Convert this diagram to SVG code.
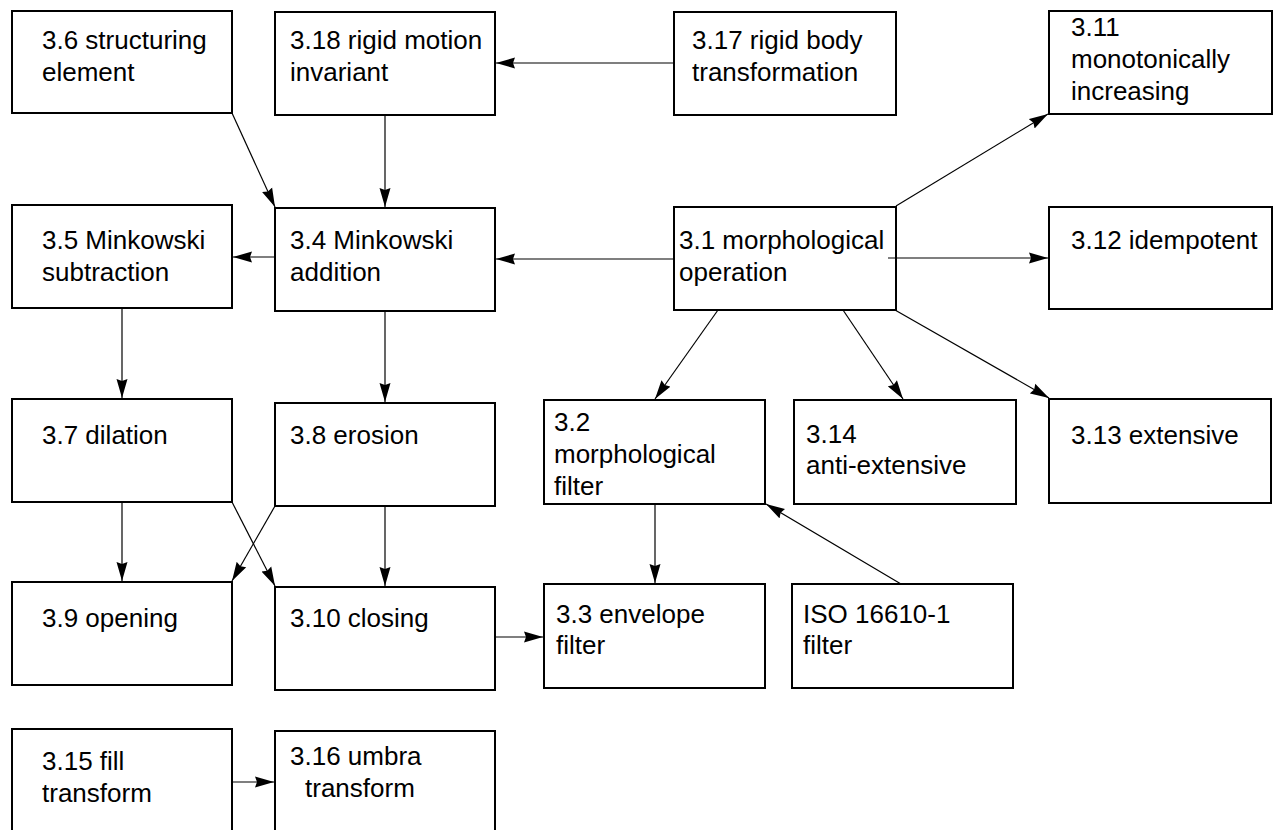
<svg xmlns="http://www.w3.org/2000/svg" width="1274" height="830" viewBox="0 0 1274 830">
<style>
.box{fill:#fff;stroke:#000;stroke-width:2}
text{font-family:"Liberation Sans",Arial,sans-serif;font-size:26px;fill:#000}
.c line{stroke:#000;stroke-width:1.2;marker-end:url(#ah)}
</style>
<defs>
<marker id="ah" markerUnits="userSpaceOnUse" viewBox="0 0 19 12" refX="19" refY="6" markerWidth="19" markerHeight="12" orient="auto">
<path d="M0,0.5 L19,6 L0,11.5 L2,6 z" fill="#000"/>
</marker>
</defs>
<rect width="1274" height="830" fill="#fff"/>
<g id="n3_6"><rect class="box" x="12" y="11" width="220" height="102"/><text x="42" y="49">3.6 structuring</text><text x="42" y="81">element</text></g>
<g id="n3_18"><rect class="box" x="275" y="12" width="220" height="103"/><text x="290" y="49">3.18 rigid motion</text><text x="290" y="81">invariant</text></g>
<g id="n3_17"><rect class="box" x="674" y="12" width="222" height="103"/><text x="692" y="49">3.17 rigid body</text><text x="692" y="81">transformation</text></g>
<g id="n3_11"><rect class="box" x="1049" y="11" width="223" height="103"/><text x="1071" y="36">3.11</text><text x="1071" y="68">monotonically</text><text x="1071" y="100">increasing</text></g>
<g id="n3_5"><rect class="box" x="12" y="205" width="220" height="103"/><text x="42" y="249">3.5 Minkowski</text><text x="42" y="281">subtraction</text></g>
<g id="n3_4"><rect class="box" x="275" y="208" width="220" height="103"/><text x="290" y="249">3.4 Minkowski</text><text x="290" y="281">addition</text></g>
<g id="n3_1"><rect class="box" x="674" y="207" width="222" height="103"/><text x="679" y="249">3.1 morphological</text><text x="679" y="281">operation</text></g>
<g id="n3_12"><rect class="box" x="1049" y="207" width="223" height="102"/><text x="1071" y="249">3.12 idempotent</text></g>
<g id="n3_7"><rect class="box" x="12" y="399" width="220" height="103"/><text x="42" y="444">3.7 dilation</text></g>
<g id="n3_8"><rect class="box" x="275" y="403" width="220" height="103"/><text x="290" y="444">3.8 erosion</text></g>
<g id="n3_2"><rect class="box" x="544" y="400" width="221" height="104"/><text x="554" y="431">3.2</text><text x="554" y="463">morphological</text><text x="554" y="495">filter</text></g>
<g id="n3_14"><rect class="box" x="794" y="400" width="222" height="104"/><text x="806" y="443">3.14</text><text x="806" y="474">anti-extensive</text></g>
<g id="n3_13"><rect class="box" x="1049" y="399" width="222" height="104"/><text x="1071" y="444">3.13 extensive</text></g>
<g id="n3_9"><rect class="box" x="12" y="582" width="220" height="103"/><text x="42" y="627">3.9 opening</text></g>
<g id="n3_10"><rect class="box" x="275" y="587" width="220" height="103"/><text x="290" y="627">3.10 closing</text></g>
<g id="n3_3"><rect class="box" x="544" y="584" width="221" height="104"/><text x="556" y="623">3.3 envelope</text><text x="556" y="654">filter</text></g>
<g id="n_iso"><rect class="box" x="792" y="584" width="221" height="104"/><text x="803" y="623">ISO 16610-1</text><text x="803" y="654">filter</text></g>
<g id="n3_15"><rect class="box" x="12" y="729" width="220" height="110"/><text x="42" y="770">3.15 fill</text><text x="42" y="802">transform</text></g>
<g id="n3_16"><rect class="box" x="275" y="731" width="220" height="110"/><text x="290" y="765">3.16 umbra</text><text x="305" y="797">transform</text></g>
<g class="c" id="connectors">
<line x1="674" y1="63" x2="496" y2="63"/>
<line x1="232" y1="113" x2="275" y2="207"/>
<line x1="385" y1="115" x2="385" y2="207"/>
<line x1="275" y1="257" x2="233" y2="257"/>
<line x1="674" y1="259" x2="496" y2="259"/>
<line x1="888" y1="258" x2="1048" y2="258"/>
<line x1="896" y1="206" x2="1048" y2="114"/>
<line x1="122" y1="308" x2="122" y2="398"/>
<line x1="385" y1="311" x2="385" y2="402"/>
<line x1="718" y1="310" x2="655" y2="399"/>
<line x1="843" y1="310" x2="903" y2="399"/>
<line x1="895" y1="310" x2="1049" y2="398"/>
<line x1="122" y1="502" x2="122" y2="581"/>
<line x1="385" y1="506" x2="385" y2="586"/>
<line x1="275" y1="506" x2="232" y2="581"/>
<line x1="232" y1="502" x2="275" y2="586"/>
<line x1="655" y1="504" x2="655" y2="583"/>
<line x1="901" y1="584" x2="766" y2="504"/>
<line x1="495" y1="637" x2="543" y2="637"/>
<line x1="232" y1="782" x2="274" y2="782"/>
</g>
</svg>
